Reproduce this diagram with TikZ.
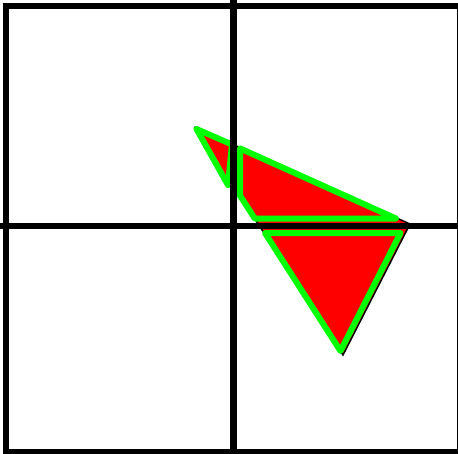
\documentclass[tikz,border=0pt]{standalone}
\begin{document}
\begin{tikzpicture}[x=1pt,y=-1pt,
  axisline/.style={line width=6.2pt,black},
  piece/.style={fill=red,draw={rgb,255:red,0;green,255;blue,0},line width=6pt,line join=round},
  shadow/.style={fill=red,draw=black,line width=1.5pt}]
\useasboundingbox (0,0) rectangle (458,453);
\fill[white] (0,0) rectangle (458,453);
% original triangle underneath
\coordinate (A) at (196,128);
\coordinate (B) at (410,224);
\coordinate (C) at (343,355);
\draw[shadow] (A) -- (B) -- (C) -- cycle;
% pieces
\draw[piece] (196.5,129) -- (232,144.5) -- (228,185) -- cycle;
\draw[piece] (240,148.4) -- (395.9,218.5) -- (254.8,218.5) -- (240,195.6) -- cycle;
\draw[piece] (265,233) -- (400.5,233) -- (340.5,351) -- cycle;
% axes
\draw[axisline] (233.5,0) -- (233.5,453);
\draw[axisline] (0,226) -- (458,226);
% frame
\draw[axisline,line width=6pt] (6.3,6.3) rectangle (460,452.3);
\end{tikzpicture}
\end{document}
